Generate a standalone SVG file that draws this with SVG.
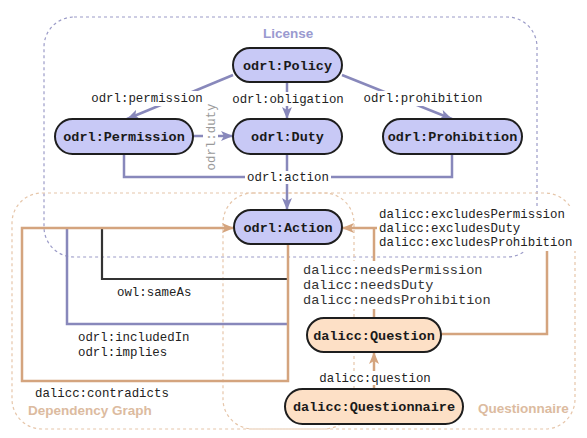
<svg xmlns="http://www.w3.org/2000/svg" width="587" height="438" viewBox="0 0 587 438">
<style>
.bg{fill:#ffffff}
.box-lic{fill:none;stroke:#9c9cc8;stroke-width:1.2;stroke-dasharray:3 3}
.box-org{fill:none;stroke:#e6c6aa;stroke-width:1.2;stroke-dasharray:3 3}
.boxlbl{font-family:"Liberation Sans",Arial,sans-serif;font-weight:bold;font-size:13.5px}
.e-p{fill:none;stroke:#8888bb;stroke-width:2.5}
.e-o{fill:none;stroke:#d4a47e;stroke-width:2.5}
.e-k{fill:none;stroke:#333333;stroke-width:2.2}
.lbl{font-family:"Liberation Mono","Courier New",monospace;font-size:12.4px;fill:#222}
.lbl.grey{fill:#9a9a9a}
.lbl2{font-family:"Liberation Mono","Courier New",monospace;font-size:13.6px;fill:#333}
.node rect{stroke:#1e1e1e;stroke-width:2}
.np rect{fill:#c8c9f6}
.nq rect{fill:#fde0c6}
.node text{font-family:"Liberation Mono","Courier New",monospace;font-weight:bold;font-size:13.5px;fill:#1a1a1a;text-anchor:middle}
</style>
<defs>
<marker id="ap" markerUnits="userSpaceOnUse" markerWidth="12" markerHeight="10" refX="12" refY="5" orient="auto"><path d="M0,0 L12,5 L0,10 L3,5 z" fill="#8888bb"/></marker>
<marker id="ao" markerUnits="userSpaceOnUse" markerWidth="12" markerHeight="10" refX="12" refY="5" orient="auto"><path d="M0,0 L12,5 L0,10 L3,5 z" fill="#d4a47e"/></marker>
</defs>
<rect width="587" height="438" fill="#ffffff"/>
<g id="containers">
<rect class="box-lic" x="44" y="17" width="493" height="240" rx="30"/>
<rect class="box-org" x="12" y="193" width="342" height="236" rx="30"/>
<rect class="box-org" x="223" y="193" width="352" height="236" rx="30"/>
<text class="boxlbl" x="263" y="38" fill="#9a9ad0">License</text>
<text class="boxlbl" x="28" y="415" fill="#dcbba0">Dependency Graph</text>
<text class="boxlbl" x="478" y="413" fill="#dcbba0">Questionnaire</text>
</g>
<g id="connectors">
<path class="e-p" d="M233,75 L127,119" marker-end="url(#ap)"/>
<path class="e-p" d="M287,82 V119" marker-end="url(#ap)"/>
<path class="e-p" d="M342,75 L452,119" marker-end="url(#ap)"/>
<path class="e-p" d="M193,136 H233" marker-end="url(#ap)"/>
<path class="e-p" d="M124,154 V177 H452 V154"/>
<path class="e-p" d="M287,154 V210" marker-end="url(#ap)"/>
<path class="e-p" d="M288,324 H67 V228"/>
<path class="e-k" d="M288,279 H102 V228"/>
<path class="e-o" d="M288,244 V381 H22 V228 H234" marker-end="url(#ao)"/>
<path class="e-o" d="M440,334 H547 V228 H342" marker-end="url(#ao)"/>
<path class="e-o" d="M374,318 V228"/>
<path class="e-o" d="M374,389 V352" marker-end="url(#ao)"/>
<rect class="bg" x="90" y="91" width="114" height="15"/>
<text class="lbl" x="147" y="102" text-anchor="middle">odrl:permission</text>
<rect class="bg" x="231" y="92" width="114" height="14"/>
<text class="lbl" x="288" y="103" text-anchor="middle">odrl:obligation</text>
<rect class="bg" x="362" y="91" width="122" height="15"/>
<text class="lbl" x="423" y="102" text-anchor="middle">odrl:prohibition</text>
<rect class="bg" x="203" y="103" width="15" height="68"/>
<text class="lbl grey" x="0" y="0" text-anchor="middle" transform="translate(215,137) rotate(-90)">odrl:duty</text>
<rect class="bg" x="245" y="171" width="86" height="13"/>
<text class="lbl" x="288" y="181" text-anchor="middle">odrl:action</text>
<text class="lbl" x="117" y="296">owl:sameAs</text>
<text class="lbl" x="78" y="341">odrl:includedIn</text>
<text class="lbl" x="78" y="356">odrl:implies</text>
<text class="lbl" x="35" y="397">dalicc:contradicts</text>
<rect class="bg" x="377" y="206" width="201" height="45"/>
<text class="lbl" x="379" y="218">dalicc:excludesPermission</text>
<text class="lbl" x="379" y="232">dalicc:excludesDuty</text>
<text class="lbl" x="379" y="246">dalicc:excludesProhibition</text>
<rect class="bg" x="300" y="261" width="196" height="48"/>
<text class="lbl2" x="303" y="274">dalicc:needsPermission</text>
<text class="lbl2" x="303" y="289">dalicc:needsDuty</text>
<text class="lbl2" x="303" y="304">dalicc:needsProhibition</text>
<rect class="bg" x="317" y="371" width="116" height="14"/>
<text class="lbl" x="375" y="382" text-anchor="middle">dalicc:question</text>
</g>
<g id="n-policy" class="node np"><rect x="233" y="48" width="109" height="34" rx="17"/><text x="287.5" y="70">odrl:Policy</text></g>
<g id="n-permission" class="node np"><rect x="55" y="119" width="138" height="35" rx="17.5"/><text x="124" y="141">odrl:Permission</text></g>
<g id="n-duty" class="node np"><rect x="233" y="119" width="109" height="35" rx="17.5"/><text x="287.5" y="141">odrl:Duty</text></g>
<g id="n-prohibition" class="node np"><rect x="383" y="119" width="139" height="35" rx="17.5"/><text x="452.5" y="141">odrl:Prohibition</text></g>
<g id="n-action" class="node np"><rect x="234" y="210" width="108" height="34" rx="17"/><text x="288" y="232">odrl:Action</text></g>
<g id="n-question" class="node nq"><rect x="307" y="318" width="134" height="34" rx="17"/><text x="374" y="340">dalicc:Question</text></g>
<g id="n-questionnaire" class="node nq"><rect x="285" y="389" width="178" height="35" rx="17.5"/><text x="374" y="411">dalicc:Questionnaire</text></g>
</svg>
